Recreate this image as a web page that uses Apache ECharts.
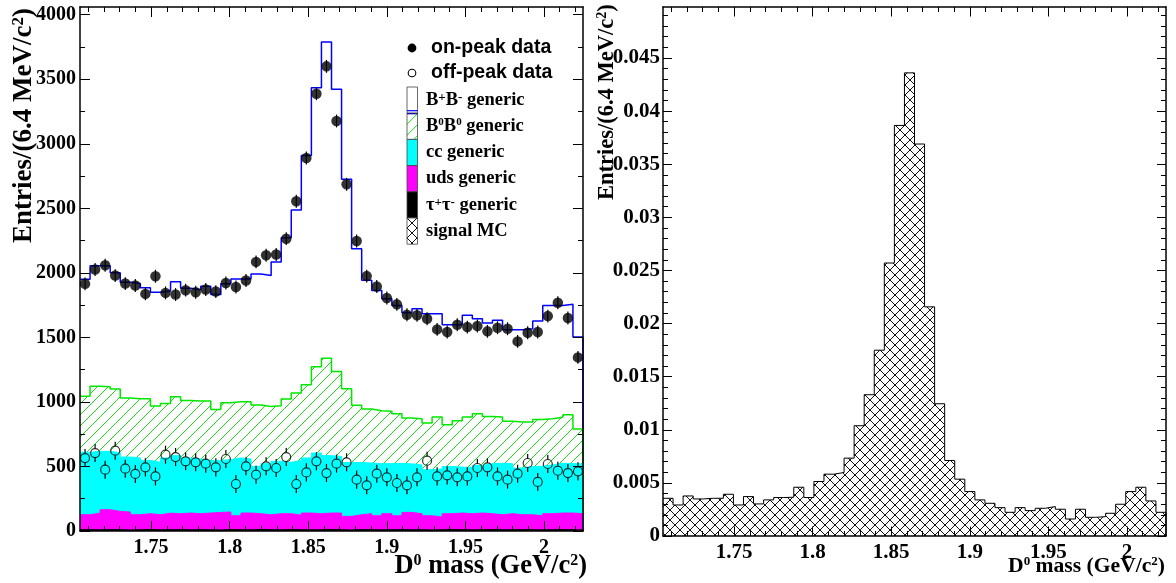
<!DOCTYPE html>
<html><head><meta charset="utf-8">
<script src="https://cdn.jsdelivr.net/npm/echarts@6/dist/echarts.min.js"></script>
<style>html,body{margin:0;padding:0;background:#fff}#c{width:1176px;height:583px}</style>
</head><body><div id="c"></div>
<script>
// ---------------- data ----------------
const binLo = 1.7048, binW = 0.0064;           // 50 bins of 6.4 MeV
const onPeak = [1915,2026,2059,1979,1917,1902,1837,1974,1845,1832,1866,1850,1871,1855,1922,1891,1941,2085,2137,2142,
  2265,2555,2890,3388,3600,3177,2686,2247,1975,1895,1805,1756,1676,1671,1645,1562,1542,1598,1580,1588,
  1547,1575,1567,1469,1536,1542,1665,1769,1650,1345];
const offPeak = [565,604,475,622,483,442,493,423,591,573,540,532,522,493,558,364,501,436,501,488,
  573,364,454,540,449,522,532,398,354,444,416,372,354,416,545,423,431,416,423,488,
  493,423,398,444,527,380,519,467,449,462];
// stacked MC tops (cumulative, as drawn)
const bpbmTop = [1950,2055,2055,2000,1928,1917,1884,1850,1860,1932,1880,1870,1897,1832,1915,1953,1953,1992,1979,2085,
  2272,2487,2910,3435,3789,3422,2725,2187,1942,1864,1800,1748,1691,1722,1684,1684,1598,1598,1671,1645,
  1611,1632,1560,1560,1567,1627,1748,1748,1756,1503];
const b0b0Top = [1045,1122,1118,1100,1030,1024,1024,968,988,1040,1012,1007,1007,942,994,1001,1001,976,965,970,
  1022,1070,1133,1272,1339,1235,1102,975,945,932,927,909,875,870,837,883,824,855,883,909,
  888,883,850,844,844,863,870,881,901,790];
const ccTop = [610,617,617,605,573,566,547,532,566,584,566,558,547,547,553,566,558,501,522,540,
  532,547,566,604,584,578,530,530,527,522,522,524,520,512,475,480,500,495,492,508,
  522,525,522,488,500,502,512,525,522,520];
const udsTop = [126,138,165,152,147,126,134,126,138,134,139,134,139,144,147,118,139,134,126,134,
  134,123,139,134,139,139,113,126,134,118,134,118,144,134,118,108,134,139,134,139,
  134,126,134,126,126,118,134,139,139,134];
const tautauTop = [10,9,11,10,8,10,12,9,10,11,9,10,10,8,11,10,9,12,10,9,
  11,10,9,10,12,10,8,11,10,9,10,11,9,10,8,10,11,10,9,10,
  12,10,9,11,10,9,10,11,10,9];
const signalMC = [0.00355,0.00292,0.00377,0.00349,0.00355,0.00355,0.00393,0.00292,0.00371,0.00302,
  0.0034,0.00362,0.00365,0.00459,0.00362,0.00513,0.00582,0.00598,0.00733,0.01038,
  0.0133,0.01749,0.0257,0.03865,0.0436,0.0369,0.02157,0.01245,0.00711,0.00535,
  0.00418,0.0034,0.00308,0.00267,0.00223,0.00267,0.00239,0.00261,0.00277,0.00252,
  0.0016,0.00252,0.00176,0.00182,0.00214,0.00299,0.00418,0.00459,0.0033,0.00223];
const onPeakErr = 50, offPeakErr = 70;
// ticks
const xMajorTicks = [1.75,1.8,1.85,1.9,1.95,2];
const xMinorTicks = [1.71,1.72,1.73,1.74,1.76,1.77,1.78,1.79,1.81,1.82,1.83,1.84,1.86,1.87,1.88,1.89,
  1.91,1.92,1.93,1.94,1.96,1.97,1.98,1.99,2.01,2.02];
const yLeftMajor = [0,500,1000,1500,2000,2500,3000,3500,4000];
const yLeftMinor = [250,750,1250,1750,2250,2750,3250,3750];
const yRightMajor = [0,0.005,0.01,0.015,0.02,0.025,0.03,0.035,0.04,0.045];
const yRightMinor = [0.001,0.002,0.003,0.004,0.006,0.007,0.008,0.009,0.011,0.012,0.013,0.014,
  0.016,0.017,0.018,0.019,0.021,0.022,0.023,0.024,0.026,0.027,0.028,0.029,0.031,0.032,0.033,0.034,
  0.036,0.037,0.038,0.039,0.041,0.042,0.043,0.044,0.046,0.047,0.048,0.049];
const legendNames = ['on-peak data','off-peak data','B+B- generic','B0B0 generic','cc generic','uds generic','τ+τ- generic','signal MC'];

// ---------------- helpers ----------------
const nBins = onPeak.length;
const edges = Array.from({length: nBins + 1}, (_, i) => +(binLo + i * binW).toFixed(6));
const centers = Array.from({length: nBins}, (_, i) => +(binLo + (i + 0.5) * binW).toFixed(6));
const xMin = edges[0], xMax = edges[nBins];
function histData(top) {
  return top.map((v, i) => [edges[i], v]).concat([[edges[nBins], top[nBins - 1]], [edges[nBins], 0]]);
}
function makeHatch(size, color, lw, both) {
  const c = document.createElement('canvas'); c.width = size; c.height = size;
  const g = c.getContext('2d');
  g.fillStyle = '#fff'; g.fillRect(0, 0, size, size);
  g.strokeStyle = color; g.lineWidth = lw; g.beginPath();
  g.moveTo(-1, size + 1); g.lineTo(size + 1, -1);
  g.moveTo(-2, 2); g.lineTo(2, -2);
  g.moveTo(size - 2, size + 2); g.lineTo(size + 2, size - 2);
  if (both) {
    g.moveTo(-1, -1); g.lineTo(size + 1, size + 1);
    g.moveTo(size - 2, -2); g.lineTo(size + 2, 2);
    g.moveTo(-2, size - 2); g.lineTo(2, size + 2);
  }
  g.stroke();
  return c;
}
const greenHatch = {image: makeHatch(11, '#18dd18', 1, false), repeat: 'repeat'};
const crossHatch = {image: makeHatch(10, '#111', 1, true), repeat: 'repeat'};

const serif = "'Liberation Serif', 'Times New Roman', serif";
const sans = "'Liberation Sans', Arial, sans-serif";
const fmt = v => String(+v.toFixed(6));

function axesX(grid, labelSize, labelMargin, majLen, minLen) {
  const base = {type: 'value', gridIndex: grid, min: xMin, max: xMax, splitLine: {show: false},
    axisLabel: {show: false}, axisTick: {show: false}, axisLine: {show: false, onZero: false}, z: 5, silent: true};
  const line = {show: true, onZero: false, lineStyle: {color: '#000', width: 1.5}};
  const maj = {show: true, inside: true, length: majLen, customValues: xMajorTicks, lineStyle: {color: '#000', width: 1}};
  const mnr = {show: true, inside: true, length: minLen, customValues: xMinorTicks, lineStyle: {color: '#000', width: 1}};
  return [
    Object.assign({}, base, {position: 'bottom', axisLine: line, axisTick: maj,
      axisLabel: {show: true, customValues: xMajorTicks, margin: labelMargin, formatter: fmt,
        fontFamily: serif, fontWeight: 'bold', fontSize: labelSize, color: '#000'}}),
    Object.assign({}, base, {position: 'bottom', axisTick: mnr}),
    Object.assign({}, base, {position: 'top', axisLine: line, axisTick: maj}),
    Object.assign({}, base, {position: 'top', axisTick: mnr})
  ];
}
function axesY(grid, max, major, minor, labelSize, labelMargin, majLen, minLen) {
  const base = {type: 'value', gridIndex: grid, min: 0, max: max, splitLine: {show: false},
    axisLabel: {show: false}, axisTick: {show: false}, axisLine: {show: false, onZero: false}, z: 5, silent: true};
  const line = {show: true, onZero: false, lineStyle: {color: '#000', width: 1.5}};
  const maj = {show: true, inside: true, length: majLen, customValues: major, lineStyle: {color: '#000', width: 1}};
  const mnr = {show: true, inside: true, length: minLen, customValues: minor, lineStyle: {color: '#000', width: 1}};
  return [
    Object.assign({}, base, {position: 'left', axisLine: line, axisTick: maj,
      axisLabel: {show: true, customValues: major, margin: labelMargin, formatter: fmt,
        fontFamily: serif, fontWeight: 'bold', fontSize: labelSize, color: '#000'}}),
    Object.assign({}, base, {position: 'left', axisTick: mnr}),
    Object.assign({}, base, {position: 'right', axisLine: line, axisTick: maj}),
    Object.assign({}, base, {position: 'right', axisTick: mnr})
  ];
}
function histSeries(name, top, xi, yi, lineColor, lw, fill) {
  return {name, type: 'line', xAxisIndex: xi, yAxisIndex: yi, data: histData(top), step: 'end',
    symbol: 'none', silent: true, z: 2, lineStyle: {color: lineColor, width: lw},
    areaStyle: {color: fill, opacity: 1}};
}
function errRender(radius) {
  return function (params, api) {
    const x = api.value(0), y = api.value(1), e = api.value(2);
    const c = api.coord([x, y]), t = api.coord([x, y + e]), b = api.coord([x, y - e]);
    const ch = [];
    if (c[1] - radius > t[1]) ch.push({type: 'line', shape: {x1: c[0], y1: t[1], x2: c[0], y2: c[1] - radius}, style: {stroke: '#000', lineWidth: 1.2}});
    if (b[1] > c[1] + radius) ch.push({type: 'line', shape: {x1: c[0], y1: c[1] + radius, x2: c[0], y2: b[1]}, style: {stroke: '#000', lineWidth: 1.2}});
    return {type: 'group', children: ch};
  };
}
function rich(F, fam) {
  return {
    b: {fontFamily: fam, fontWeight: 'bold', fontSize: F, lineHeight: F, fill: '#000'},
    s: {fontFamily: fam, fontWeight: 'bold', fontSize: Math.round(F * 0.62), lineHeight: Math.round(F * 0.36), verticalAlign: 'top', fill: '#000'},
    p: {fontFamily: fam, fontWeight: 'bold', fontSize: Math.round(F * 0.72), lineHeight: Math.max(1, Math.round(F * 0.1)), verticalAlign: 'top', fill: '#000'}
  };
}

// ---------------- legend (graphic) ----------------
const lgX = 407, lgW = 10.5, rowTop = 87, rowH = 26.2, txtX = 426;
const legendFills = ['#fff', greenHatch, '#00ffff', '#ff00ff', '#000', crossHatch];
const legendTexts = ['{b|B}{p|+}{b|B}{p|-}{b| generic}', '{b|B}{s|0}{b|B}{s|0}{b| generic}', '{b|cc generic}',
  '{b|uds generic}', '{b|τ}{p|+}{b|τ}{p|-}{b| generic}', '{b|signal MC}'];
const graphic = [];
graphic.push({type: 'circle', x: 412, y: 48, shape: {r: 4.4}, style: {fill: '#000'}, z: 100});
graphic.push({type: 'text', x: 431, y: 48, z: 100, style: {text: legendNames[0], fill: '#000', fontFamily: sans, fontWeight: 'bold', fontSize: 19.5, align: 'left', verticalAlign: 'middle'}});
graphic.push({type: 'circle', x: 412, y: 73, shape: {r: 3.8}, style: {fill: 'none', stroke: '#000', lineWidth: 1.1}, z: 100});
graphic.push({type: 'text', x: 431, y: 73, z: 100, style: {text: legendNames[1], fill: '#000', fontFamily: sans, fontWeight: 'bold', fontSize: 19.5, align: 'left', verticalAlign: 'middle'}});
legendFills.forEach((f, k) => {
  const y0 = rowTop + k * rowH;
  graphic.push({type: 'rect', x: lgX, y: y0, shape: {width: lgW, height: rowH}, style: {fill: f, stroke: '#444', lineWidth: 0.8}, z: 100});
  if (k === 0) graphic.push({type: 'line', shape: {x1: lgX, y1: y0 + rowH - 2.5, x2: lgX + lgW, y2: y0 + rowH - 2.5}, style: {stroke: '#0000ff', lineWidth: 1.2}, z: 101});
  if (k === 1) graphic.push({type: 'line', shape: {x1: lgX, y1: y0 + 0.5, x2: lgX + lgW, y2: y0 + 0.5}, style: {stroke: '#0000aa', lineWidth: 1.2}, z: 101});
  graphic.push({type: 'text', x: txtX, y: y0 + rowH / 2, z: 100, style: {text: legendTexts[k], rich: rich(18.5, serif), align: 'left', verticalAlign: 'middle'}});
});
// axis titles
graphic.push({type: 'text', x: 24, y: 243, rotation: Math.PI / 2, z: 100,
  style: {text: '{b|Entries/(6.4 MeV/c}{s|2}{b|)}', rich: rich(27, serif), align: 'left', verticalAlign: 'middle'}});
graphic.push({type: 'text', x: 607, y: 200, rotation: Math.PI / 2, z: 100,
  style: {text: '{b|Entries/(6.4 MeV/c}{s|2}{b|)}', rich: rich(22.5, serif), align: 'left', verticalAlign: 'middle'}});
graphic.push({type: 'text', x: 587, y: 566, z: 100,
  style: {text: '{b|D}{s|0}{b| mass (GeV/c}{s|2}{b|)}', rich: rich(26.5, serif), align: 'right', verticalAlign: 'middle'}});
graphic.push({type: 'text', x: 1165, y: 566, z: 100,
  style: {text: '{b|D}{s|0}{b| mass (GeV/c}{s|2}{b|)}', rich: rich(21.6, serif), align: 'right', verticalAlign: 'middle'}});

// ---------------- option ----------------
const option = {
  animation: false,
  backgroundColor: '#fff',
  grid: [
    {left: 80, top: 7, width: 503, height: 524},
    {left: 663, top: 7, width: 503, height: 529}
  ],
  xAxis: axesX(0, 20, 7, 10, 5).concat(axesX(1, 21, 6, 9.5, 5)),
  yAxis: axesY(0, 4060, yLeftMajor, yLeftMinor, 20, 4, 10, 5).concat(axesY(1, 0.0498, yRightMajor, yRightMinor, 21, 3, 9, 5)),
  graphic: graphic,
  series: [
    histSeries(legendNames[2], bpbmTop, 0, 0, '#0000ff', 1.5, '#fff'),
    histSeries(legendNames[3], b0b0Top, 0, 0, '#00e800', 1.5, greenHatch),
    histSeries(legendNames[4], ccTop, 0, 0, '#00ffff', 1, '#00ffff'),
    histSeries(legendNames[5], udsTop, 0, 0, '#ff00ff', 1, '#ff00ff'),
    histSeries(legendNames[6], tautauTop, 0, 0, '#000', 1, '#000'),
    {name: 'off-peak err', type: 'custom', xAxisIndex: 0, yAxisIndex: 0, silent: true, z: 6,
      encode: {x: 0, y: 1}, renderItem: errRender(4.5),
      data: offPeak.map((v, i) => [centers[i], v, offPeakErr])},
    {name: legendNames[1], type: 'scatter', xAxisIndex: 0, yAxisIndex: 0, silent: true, z: 7, symbol: 'circle', symbolSize: 9,
      itemStyle: {color: 'rgba(0,0,0,0)', borderColor: '#000', borderWidth: 1.2},
      data: offPeak.map((v, i) => [centers[i], v])},
    {name: 'on-peak err', type: 'custom', xAxisIndex: 0, yAxisIndex: 0, silent: true, z: 6,
      encode: {x: 0, y: 1}, renderItem: errRender(0),
      data: onPeak.map((v, i) => [centers[i], v, onPeakErr])},
    {name: legendNames[0], type: 'scatter', xAxisIndex: 0, yAxisIndex: 0, silent: true, z: 7, symbol: 'circle', symbolSize: 10.5,
      itemStyle: {color: '#000'}, data: onPeak.map((v, i) => [centers[i], v])},
    histSeries(legendNames[7], signalMC, 4, 4, '#000', 1, crossHatch)
  ]
};
const chart = echarts.init(document.getElementById('c'), null, {renderer: 'canvas'});
chart.setOption(option);
</script>
</body></html>
